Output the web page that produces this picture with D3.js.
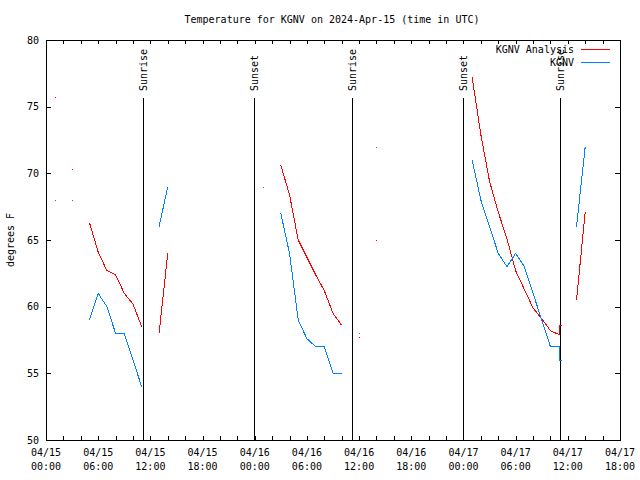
<!DOCTYPE html>
<html>
<head>
<meta charset="utf-8">
<script src="https://cdn.jsdelivr.net/npm/d3@7"></script>
<style>
  html, body { margin: 0; padding: 0; background: #fff; }
  svg { display: block; }
  text { font-family: "DejaVu Sans Mono", "Liberation Mono", monospace; font-size: 10px; fill: #000; }
</style>
</head>
<body>
<svg id="chart" width="640" height="480"></svg>
<script>
// ---------- data ----------
const titleText = "Temperature for KGNV on 2024-Apr-15 (time in UTC)";
const yLabel = "degrees F";
const startUTC = Date.UTC(2024, 3, 15, 0, 0);
const endUTC = Date.UTC(2024, 3, 17, 18, 0);
// hours after 2024-04-15 00:00 UTC
const hours = [1, 3, 5, 6, 7, 8, 9, 10, 11, 13, 14, 25, 27, 28, 29, 30, 31, 32, 33, 34, 36, 38,
               49, 50, 51, 52, 53, 54, 55, 56, 57, 58, 59, 59.08, 59.33, 61, 62];
const analysisTemps = [75.7, 70.3, 66.3, 64.1, 62.7, 62.4, 61.0, 60.2, 58.5, 58.0, 64.0, null,
                       70.6, 68.4, 65.0, 63.7, 62.4, 61.2, 59.5, 58.6, 57.7, 65.0,
                       77.2, 72.9, 69.4, 67.1, 65.1, 62.7, 61.3, 59.9, 59.1, 58.2, 57.9, 58.6, 58.6, 60.5, 67.1];
const obsTemps = [68, 68, 59, 61, 60, 58, 58, 56, 54, 66, 69, 69,
                  67, 64, 59, 57.6, 57, 57, 55, 55, 58, 72,
                  71, 68, 66, 64, 63, 64, 63, 61, 59, 57, 57, 56, 56, 66, 72];
const seriesNames = ["KGNV Analysis", "KGNV"];
const seriesColors = ["#ff0000", "#0080ff"];
// sun events (hours after start)
const sunEventHours = [11.2, 23.97, 35.22, 48.0, 59.12];
const sunEventNames = ["Sunrise", "Sunset", "Sunrise", "Sunset", "Sunrise"];
const yTicks = [50, 55, 60, 65, 70, 75, 80];
const xTickDates = ["04/15", "04/15", "04/15", "04/15", "04/16", "04/16", "04/16", "04/16", "04/17", "04/17", "04/17", "04/17"];
const xTickTimes = ["00:00", "06:00", "12:00", "18:00", "00:00", "06:00", "12:00", "18:00", "00:00", "06:00", "12:00", "18:00"];

// ---------- layout ----------
const svg = d3.select("#chart");
const m = { left: 46, top: 40, right: 20, bottom: 40 };
const W = 640 - m.left - m.right;
const H = 480 - m.top - m.bottom;
const toDate = h => new Date(startUTC + h * 3600000);

const x = d3.scaleUtc().domain([new Date(startUTC), new Date(endUTC)]).range([0, W]);
const y = d3.scaleLinear().domain([50, 80]).range([H, 0]);

const g = svg.append("g").attr("transform", `translate(${m.left},${m.top})`);

// title
svg.append("text").attr("x", 332).attr("y", 23).attr("text-anchor", "middle").text(titleText);

// y label
svg.append("text").attr("transform", "translate(14,240) rotate(-90)")
  .attr("text-anchor", "middle").text(yLabel);

// axes ticks (inward), frame
const minorTicks = d3.utcHour.every(2).range(new Date(startUTC), new Date(endUTC + 1));
const axB = d3.axisBottom(x).tickValues(minorTicks).tickSize(-4).tickFormat("");
const axT = d3.axisTop(x).tickValues(minorTicks).tickSize(-4).tickFormat("");
const axL = d3.axisLeft(y).tickValues(yTicks).tickSize(-5).tickFormat("");
const axR = d3.axisRight(y).tickValues(yTicks).tickSize(-5).tickFormat("");
const gb = g.append("g").attr("transform", `translate(0,${H})`).call(axB);
const gt = g.append("g").call(axT);
const gl = g.append("g").call(axL);
const gr = g.append("g").attr("transform", `translate(${W},0)`).call(axR);
[gb, gt, gl, gr].forEach(a => {
  a.select(".domain").remove();
  a.selectAll("line").attr("stroke", "#000").attr("shape-rendering", "crispEdges");
});
g.append("rect").attr("x", 0.5).attr("y", 0.5).attr("width", W).attr("height", H)
  .attr("fill", "none").attr("stroke", "#000").attr("shape-rendering", "crispEdges");

// y tick labels
g.selectAll(".ylab").data(yTicks).enter().append("text")
  .attr("x", -7).attr("y", d => y(d)).attr("dy", "0.35em")
  .attr("text-anchor", "end").text(d => d);

// x tick labels
const xl = g.selectAll(".xlab").data(xTickDates).enter().append("text")
  .attr("text-anchor", "middle")
  .attr("transform", (d, i) => `translate(${x(toDate(i * 6))},${H + 16})`);
xl.append("tspan").attr("x", 0).attr("y", 0).text(d => d);
xl.append("tspan").attr("x", 0).attr("y", 14).text((d, i) => xTickTimes[i]);

// sunrise / sunset lines
const lineTop = H * 0.145;
sunEventHours.forEach((h, i) => {
  const xp = Math.round(x(toDate(h))) + 0.5;
  g.append("line").attr("x1", xp).attr("x2", xp).attr("y1", lineTop).attr("y2", H)
    .attr("stroke", "#000").attr("stroke-width", 1).attr("shape-rendering", "crispEdges");
  g.append("text").attr("transform", `translate(${xp + 3},${lineTop - 7}) rotate(-90)`)
    .attr("text-anchor", "start").text(sunEventNames[i]);
});

// series drawing
function runs(vals) {
  const out = [];
  let cur = [];
  for (let i = 0; i < hours.length; i++) {
    if (vals[i] == null) { if (cur.length) out.push(cur); cur = []; continue; }
    if (cur.length && hours[i] - cur[cur.length - 1].h > 1.5) { out.push(cur); cur = []; }
    cur.push({ h: hours[i], v: vals[i] });
  }
  if (cur.length) out.push(cur);
  return out;
}
const line = d3.line().x(d => x(toDate(d.h))).y(d => y(d.v));
[analysisTemps, obsTemps].forEach((vals, si) => {
  runs(vals).forEach(r => {
    if (r.length === 1) {
      g.append("rect").attr("x", Math.round(x(toDate(r[0].h)))).attr("y", Math.round(y(r[0].v)))
        .attr("width", 1).attr("height", 1).attr("fill", seriesColors[si]);
    } else {
      g.append("path").datum(r).attr("d", line).attr("fill", "none")
        .attr("stroke", seriesColors[si]).attr("stroke-width", 1)
        .attr("shape-rendering", "crispEdges");
    }
  });
});

// legend
seriesNames.forEach((n, i) => {
  const ly = 9 + i * 13;
  g.append("text").attr("x", 528).attr("y", ly + 4).attr("text-anchor", "end").text(n);
  g.append("line").attr("x1", 535).attr("x2", 564).attr("y1", ly + 0.5).attr("y2", ly + 0.5)
    .attr("stroke", seriesColors[i]).attr("stroke-width", 1).attr("shape-rendering", "crispEdges");
});
</script>
</body>
</html>
